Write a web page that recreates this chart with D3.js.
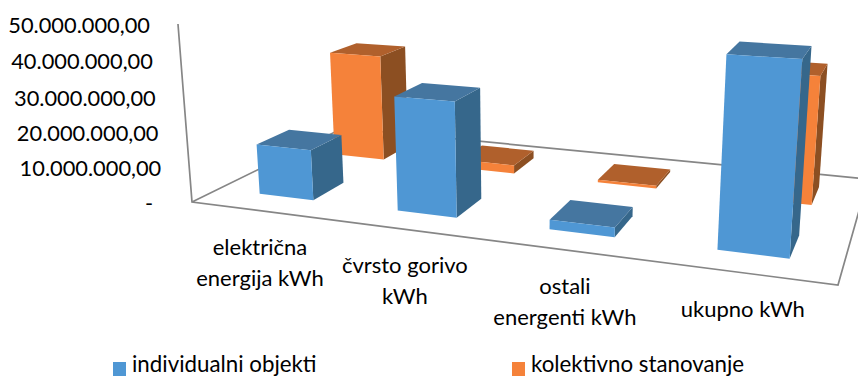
<!DOCTYPE html>
<html>
<head>
<meta charset="utf-8">
<script src="https://cdn.jsdelivr.net/npm/d3@7"></script>
<style>
  body { margin: 0; background: #fff; overflow: hidden; }
  text { font-family: Lato, "Open Sans", sans-serif; fill: #000; }
</style>
</head>
<body>
<div id="chart"></div>
<script>
const categories = [["električna", "energija kWh"], ["čvrsto gorivo", "kWh"], ["ostali", "energenti kWh"], ["ukupno kWh"]];
const seriesNames = ["kolektivno stanovanje", "individualni objekti"];
const individualni = [14500000, 31800000, 2600000, 48800000];
const kolektivno = [32800000, 2500000, 800000, 36100000];
const yTicks = [0, 10000000, 20000000, 30000000, 40000000, 50000000];

const width = 858, height = 376;

// face colours per series: front, top, side
const colors = {
    "individualni objekti": { front: "#4f97d4", top: "#4576a0", side: "#36678b", key: "#4f97d4" },
    "kolektivno stanovanje": { front: "#f5823a", top: "#b0602c", side: "#8c4f22", key: "#f5823a" }
};

const svg = d3.select("#chart").append("svg")
    .attr("width", width)
    .attr("height", height);

// floor corners of the 3d box on screen, and where the verticals converge
const floor = { fl: [192, 202], fr: [838, 285], br: [868, 179], bl: [343, 128] };
const vertical = [525, 4430];
const wallTop = 24;

// unit square -> floor quad
function floorMatrix(q) {
    let [x0, y0] = q.fl, [x1, y1] = q.fr, [x2, y2] = q.br, [x3, y3] = q.bl;
    let dx1 = x1 - x2, dx2 = x3 - x2, sx = x0 - x1 + x2 - x3;
    let dy1 = y1 - y2, dy2 = y3 - y2, sy = y0 - y1 + y2 - y3;
    let den = dx1 * dy2 - dx2 * dy1;
    let g = (sx * dy2 - dx2 * sy) / den;
    let h = (dx1 * sy - sx * dy1) / den;
    return [x1 - x0 + g * x1, x3 - x0 + h * x3, x0, y1 - y0 + g * y1, y3 - y0 + h * y3, y0, g, h];
}
const m = floorMatrix(floor);
const k = (wallTop - floor.fl[1]) / (vertical[1] - wallTop);

// u along the categories, v into the depth, z up (all 0..1)
function project(u, v, z) {
    let w = m[6] * u + m[7] * v + 1 + k * z;
    return [
        (m[0] * u + m[1] * v + m[2] + k * z * vertical[0]) / w,
        (m[3] * u + m[4] * v + m[5] + k * z * vertical[1]) / w
    ];
}

let x = d3.scaleBand()
    .domain(d3.range(categories.length))
    .range([0, 1])
    .paddingInner(0.6)
    .paddingOuter(0.3)
    .align(0.52);
let depth = d3.scaleBand()
    .domain(["individualni objekti", "kolektivno stanovanje"])
    .range([0, 1])
    .paddingInner(0.6)
    .paddingOuter(0.3);
let y = d3.scaleLinear()
    .domain([0, 50000000])
    .range([0, 1]);

const line = d3.line();
const poly = pts => line(pts) + "Z";

// floor and value axis lines
svg.append("path")
    .attr("d", line([project(0, 0, 1), project(0, 0, 0), project(1, 0, 0), project(1, 1, 0), project(0, 1, 0), project(0, 0, 0)]))
    .attr("fill", "none")
    .attr("stroke", "#868686")
    .attr("stroke-width", 1.7);

// value labels follow the tilted axis
const locale = d3.formatLocale({ decimal: ",", thousands: ".", grouping: [3], currency: ["", ""] });
const fmt = locale.format(",.2f");
svg.selectAll(".ytick")
    .data(yTicks)
    .enter()
    .append("text")
    .attr("class", "ytick")
    .attr("x", d => project(0, 0, y(d))[0] - (d == 0 ? 39 : 28))
    .attr("y", d => project(0, 0, y(d))[1] + 1)
    .attr("dy", ".35em")
    .attr("text-anchor", "end")
    .attr("font-size", 21.8)
    .text(d => d == 0 ? "-" : fmt(d));

// bars: back row first, left to right
seriesNames.forEach(name => {
    let values = name == "individualni objekti" ? individualni : kolektivno;
    let c = colors[name];
    values.forEach((val, i) => {
        let u0 = x(i), u1 = x(i) + x.bandwidth();
        let v0 = depth(name), v1 = depth(name) + depth.bandwidth();
        let z = y(val);
        let g = svg.append("g").attr("class", "bar");
        g.append("path").attr("fill", c.side)
            .attr("d", poly([project(u1, v0, 0), project(u1, v1, 0), project(u1, v1, z), project(u1, v0, z)]));
        g.append("path").attr("fill", c.top)
            .attr("d", poly([project(u0, v0, z), project(u1, v0, z), project(u1, v1, z), project(u0, v1, z)]));
        g.append("path").attr("fill", c.front)
            .attr("d", poly([project(u0, v0, 0), project(u1, v0, 0), project(u1, v0, z), project(u0, v0, z)]));
    });
});

// category labels hang below the front edge
categories.forEach((lines, i) => {
    let p = project(x(i) + x.bandwidth() / 2, 0, 0);
    let t = svg.append("text")
        .attr("text-anchor", "middle")
        .attr("font-size", 22);
    lines.forEach((s, j) => {
        t.append("tspan")
            .attr("x", p[0] - 1)
            .attr("y", p[1] + 44 + j * 31)
            .text(s);
    });
});

// legend
const legendX = { "individualni objekti": 113, "kolektivno stanovanje": 512 };
seriesNames.forEach(name => {
    svg.append("rect")
        .attr("x", legendX[name])
        .attr("y", 362)
        .attr("width", 13)
        .attr("height", 14)
        .attr("fill", colors[name].key);
    svg.append("text")
        .attr("x", legendX[name] + 19)
        .attr("y", 371.5)
        .attr("font-size", 22.3)
        .text(name);
});
</script>
</body>
</html>
